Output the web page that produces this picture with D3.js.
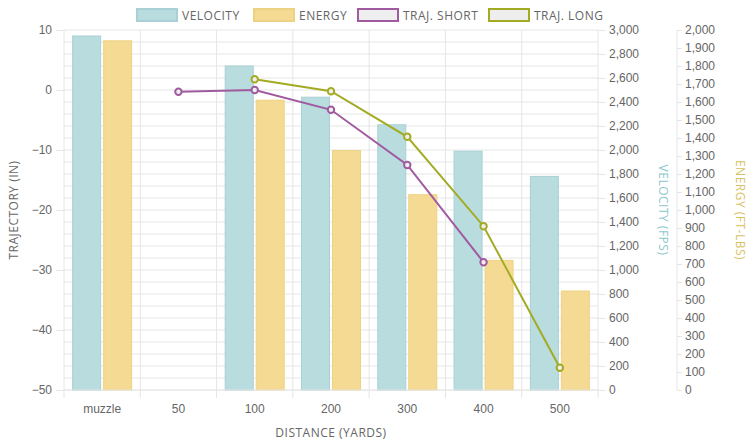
<!DOCTYPE html>
<html><head><meta charset="utf-8">
<script src="https://cdn.jsdelivr.net/npm/d3@7"></script>
<style>body{margin:0;background:#fff}svg{font-family:"Open Sans",sans-serif}</style>
</head><body><svg id="c" width="754" height="447"></svg>
<script>
const categories=["muzzle","50","100","200","300","400","500"];
const velocity=[2950,null,2700,2440,2210,1990,1780];
const energy=[1940,null,1610,1330,1085,720,550];
const trajShort=[null,-0.3,0,-3.3,-12.5,-28.7,null];
const trajLong=[null,null,1.8,-0.2,-7.8,-22.7,-46.3];
const trajTicks=[10,0,-10,-20,-30,-40,-50];

const svg=d3.select("#c");
const L=64,R=598,T=30,B=390;
const x=d3.scaleBand().domain(categories).range([L,R]);
const yT=d3.scaleLinear().domain([-50,10]).range([B,T]);
const yV=d3.scaleLinear().domain([0,3000]).range([B,T]);
const yE=d3.scaleLinear().domain([0,2000]).range([B,T]);
const grid="#e6e6e6",txt="#666";
// grid
svg.append("g").selectAll("line").data(d3.range(-50,10.1,2)).join("line")
 .attr("x1",L).attr("x2",R).attr("y1",d=>yT(d)).attr("y2",d=>yT(d)).attr("stroke",grid);
svg.append("g").selectAll("line").data(d3.range(0,categories.length+1)).join("line")
 .attr("x1",i=>L+i*x.step()).attr("x2",i=>L+i*x.step()).attr("y1",T).attr("y2",B+8).attr("stroke",grid);
// bars
const bw=28;
const vc="#b9dcdf",ec="#f4da92";
svg.append("g").selectAll("rect").data(categories.map((c,i)=>({c,v:velocity[i]})).filter(d=>d.v!=null)).join("rect")
 .attr("x",d=>x(d.c)+x.bandwidth()/2-bw-1.5).attr("width",bw).attr("y",d=>yV(d.v)).attr("height",d=>B-yV(d.v))
 .attr("fill",vc).attr("stroke","#a9d0d4");
svg.append("g").selectAll("rect").data(categories.map((c,i)=>({c,v:energy[i]})).filter(d=>d.v!=null)).join("rect")
 .attr("x",d=>x(d.c)+x.bandwidth()/2+1.5).attr("width",bw).attr("y",d=>yE(d.v)).attr("height",d=>B-yE(d.v))
 .attr("fill",ec).attr("stroke","#eed284");
// lines
function line(data,col){
 const pts=categories.map((c,i)=>({c,v:data[i]})).filter(d=>d.v!=null);
 svg.append("path").datum(pts).attr("fill","none").attr("stroke",col).attr("stroke-width",2)
  .attr("d",d3.line().x(d=>x(d.c)+x.bandwidth()/2).y(d=>yT(d.v)));
 svg.append("g").selectAll("circle").data(pts).join("circle").attr("cx",d=>x(d.c)+x.bandwidth()/2).attr("cy",d=>yT(d.v))
  .attr("r",3.2).attr("fill","#eee").attr("stroke",col).attr("stroke-width",2);
}
line(trajShort,"#a05a9f");
line(trajLong,"#a3ab23");
// axes
function style(g){g.selectAll("text").attr("fill",txt).style("font-size","12px");g.selectAll("line").attr("stroke",grid);g.select(".domain").remove();}
svg.append("g").attr("transform",`translate(${L},0)`).call(d3.axisLeft(yT).tickValues(trajTicks).tickSize(8).tickPadding(4)).call(style);
svg.append("g").attr("transform",`translate(${R},0)`).call(d3.axisRight(yV).tickValues(d3.range(0,3001,200)).tickFormat(d3.format(",")).tickSize(8).tickPadding(3)).call(style);
const ge=svg.append("g").attr("transform",`translate(677,0)`).call(d3.axisRight(yE).tickValues(d3.range(0,2001,100)).tickFormat(d3.format(",")).tickSize(5).tickPadding(3)).call(style);
ge.append("line").attr("x1",0).attr("x2",0).attr("y1",T).attr("y2",B).attr("stroke",grid);
svg.append("g").attr("transform",`translate(0,${B})`).call(d3.axisBottom(x).tickSize(0).tickPadding(14)).call(style);
svg.append("line").attr("x1",L).attr("x2",R).attr("y1",B).attr("y2",B).attr("stroke",grid);
// titles
svg.append("text").attr("x",331).attr("y",437).attr("text-anchor","middle").attr("fill",txt).style("font-size","12px").style("letter-spacing","0.5px").text("DISTANCE (YARDS)");
svg.append("text").attr("transform","translate(18,210) rotate(-90)").attr("text-anchor","middle").attr("fill",txt).style("font-size","12px").style("letter-spacing","0.5px").text("TRAJECTORY (IN)");
svg.append("text").attr("transform","translate(659,210) rotate(90)").attr("text-anchor","middle").attr("fill","#8cc7cc").style("font-size","12px").style("letter-spacing","0.5px").text("VELOCITY (FPS)");
svg.append("text").attr("transform","translate(736,210) rotate(90)").attr("text-anchor","middle").attr("fill","#d9c15f").style("font-size","12px").style("letter-spacing","0.5px").text("ENERGY (FT-LBS)");
// legend
const leg=[{t:"VELOCITY",f:vc,s:"#a9d0d4",x:137},{t:"ENERGY",f:ec,s:"#eed284",x:254},{t:"TRAJ. SHORT",f:"#eee",s:"#a05a9f",x:358},{t:"TRAJ. LONG",f:"#eee",s:"#a3ab23",x:489}];
const lg=svg.append("g").selectAll("g").data(leg).join("g").attr("transform",d=>`translate(${d.x},9)`);
lg.append("rect").attr("width",40).attr("height",12).attr("fill",d=>d.f).attr("stroke",d=>d.s).attr("stroke-width",2);
lg.append("text").attr("x",45).attr("y",11).attr("fill",txt).style("font-size","12px").style("letter-spacing","0.5px").text(d=>d.t);
</script></body></html>
